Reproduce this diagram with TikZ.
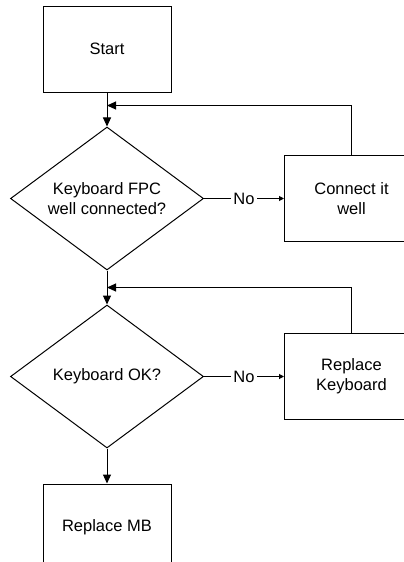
\documentclass[tikz,border=0pt]{standalone}
\usepackage{fontspec}
\setmainfont{Liberation Sans}
\usetikzlibrary{shapes.geometric,arrows.meta,positioning}
\tikzset{
  stepbox/.style={rectangle,draw,minimum width=128pt,minimum height=86pt,align=center,inner sep=0pt},
  sidebox/.style={rectangle,draw,minimum width=134pt,minimum height=86pt,align=center,inner sep=0pt},
  decision/.style={diamond,draw,aspect=1.35,minimum width=193pt,minimum height=143pt,align=center,inner sep=0pt},
  arrow/.style={-{Triangle[length=9pt,width=8pt]}},
  noarrow/.style={-{Triangle[length=5pt,width=5pt]}},
  nolabel/.style={fill=white,inner sep=2.5pt},
}
\begin{document}
\begin{tikzpicture}[x=1pt,y=-1pt,line width=1pt,font=\fontsize{16.5}{20}\selectfont]
  \useasboundingbox (0,0) rectangle (404,562);
  \clip (0,0) rectangle (404,562);

  % Main column
  \node[stepbox] (start) at (107,49) {Start};
  \node[decision, below=34pt of start] (fpc) {Keyboard FPC\\well connected?};
  \node[decision, below=34pt of fpc] (kbdok) {Keyboard OK?};
  \node[stepbox, below=35pt of kbdok] (mb) {Replace MB};

  % Side column
  \node[sidebox, right=80pt of fpc] (fix) {Connect it\\well};
  \node[sidebox, right=80pt of kbdok] (newkbd) {Replace\\Keyboard};

  % Joins for the loops
  \coordinate[below=13pt of start] (join1);
  \coordinate[below=17pt of fpc] (join2);

  % Arrows main column
  \draw[arrow] (start) -- (fpc);
  \draw[arrow] (fpc) -- (kbdok);
  \draw[arrow] (kbdok) -- (mb);
  % Arrows to side column
  \draw[noarrow] (fpc) -- node[nolabel]{No} (fix);
  \draw[noarrow] (kbdok) -- node[nolabel]{No} (newkbd);
  % Loops back
  \draw[arrow] (fix.north) |- (join1);
  \draw[arrow] (newkbd.north) |- (join2);
\end{tikzpicture}
\end{document}
